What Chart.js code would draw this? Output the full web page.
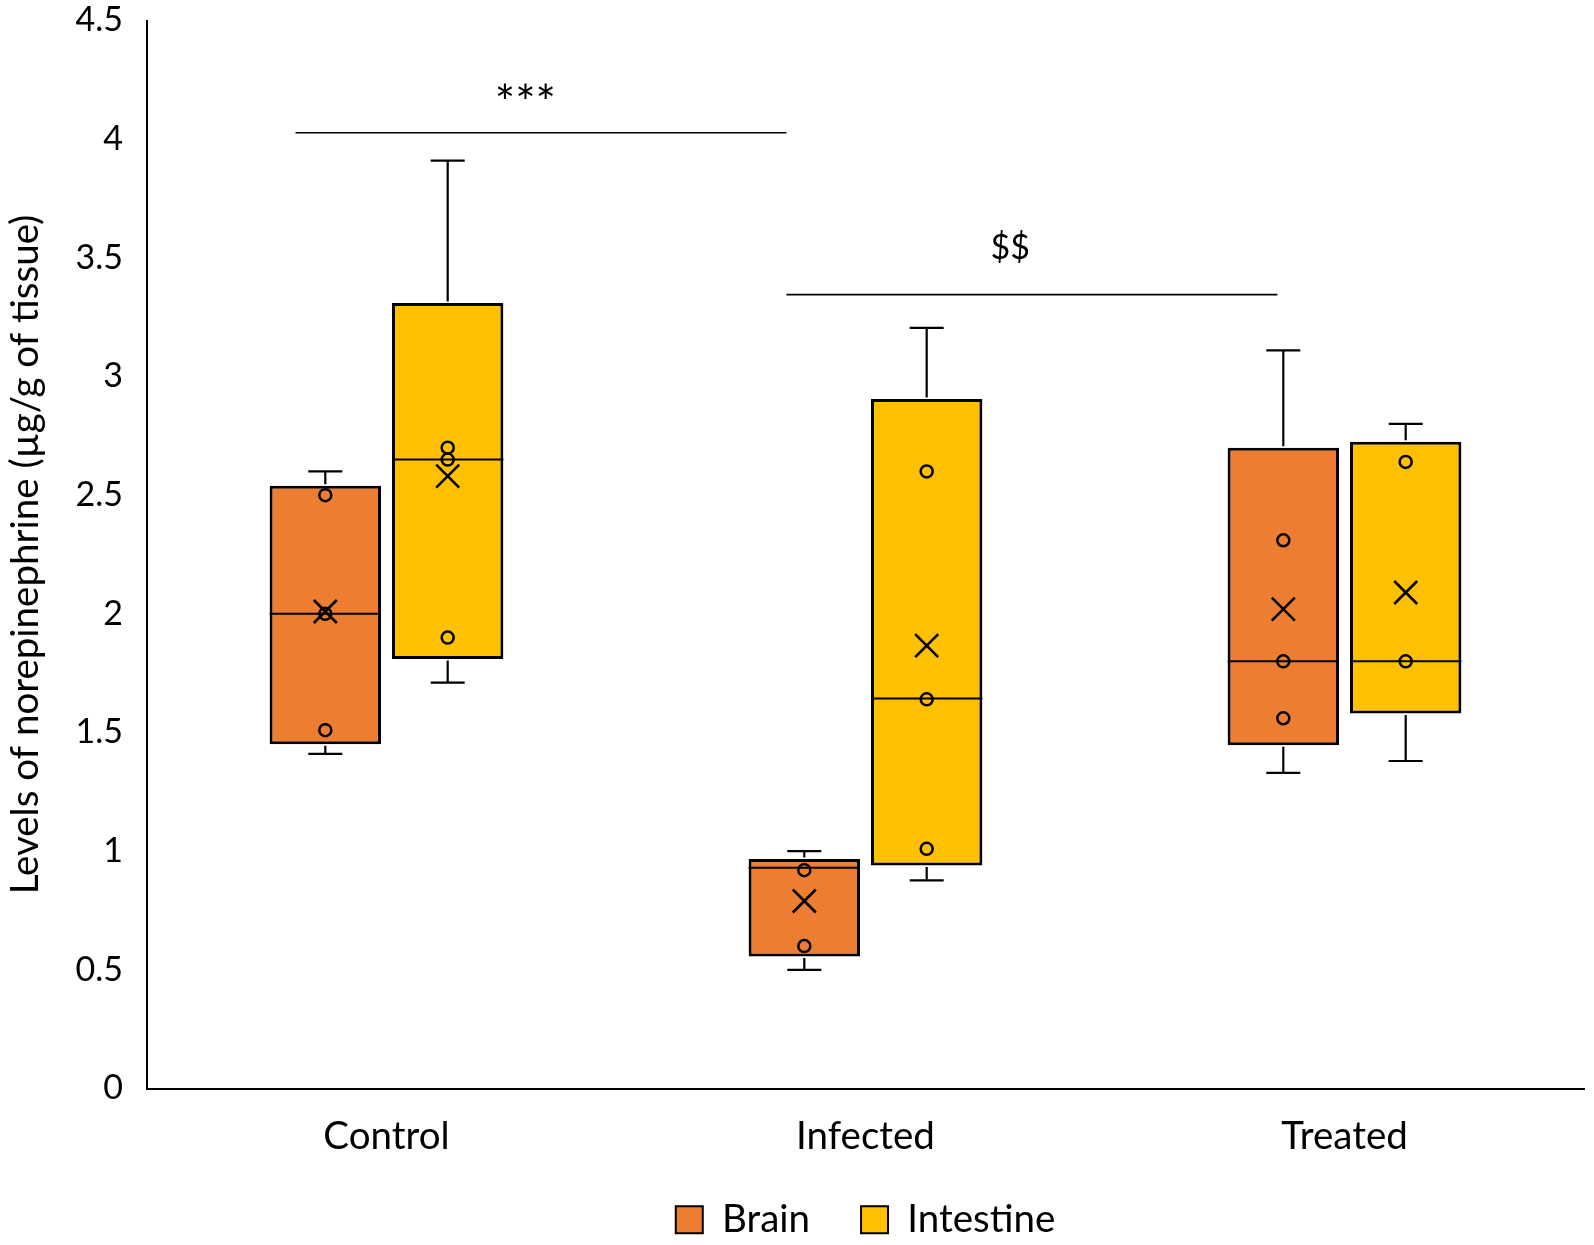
<!DOCTYPE html>
<html>
<head>
<meta charset="utf-8">
<script src="https://cdn.jsdelivr.net/npm/chart.js@4"></script>
<style>
  html, body { margin: 0; padding: 0; background: #fff; }
  #wrap { width: 1594px; height: 1245px; position: relative; }
</style>
</head>
<body>
<div id="wrap"><canvas id="c" width="1594" height="1245"></canvas></div>
<script>
// ---- data ----
const categories = ['Control', 'Infected', 'Treated'];
const seriesNames = ['Brain', 'Intestine'];

const brainMin    = [1.41, 0.50, 1.33];
const brainQ1     = [1.45, 0.556, 1.446];
const brainMedian = [2.00, 0.93, 1.80];
const brainQ3     = [2.54, 0.967, 2.70];
const brainMax    = [2.60, 1.00, 3.11];
const brainMean   = [2.01, 0.79, 2.02];
const brainPoints = [[2.50, 2.00, 1.51], [0.92, 0.60], [2.31, 1.80, 1.56]];

const intMin    = [1.71, 0.877, 1.38];
const intQ1     = [1.81, 0.94, 1.58];
const intMedian = [2.65, 1.643, 1.80];
const intQ3     = [3.31, 2.905, 2.725];
const intMax    = [3.91, 3.205, 2.80];
const intMean   = [2.58, 1.866, 2.09];
const intPoints = [[2.70, 2.65, 1.90], [2.60, 1.64, 1.01], [2.64, 1.80]];

// significance brackets: [xFrom, xTo] in category index units, y value, label
const sigFrom  = [-0.19, 0.835];
const sigTo    = [0.835, 1.86];
const sigY     = [4.027, 3.345];
const sigLabel = ['***', '$$'];
const sigLabelX = [0.29, 1.302];
const sigLabelY = [4.147, 3.54];

const yTicks = [0, 0.5, 1, 1.5, 2, 2.5, 3, 3.5, 4, 4.5];

const FONT = "Lato, 'Open Sans', 'Liberation Sans', sans-serif";
const stats = [
  {min: brainMin, q1: brainQ1, med: brainMedian, q3: brainQ3, max: brainMax, mean: brainMean, pts: brainPoints},
  {min: intMin, q1: intQ1, med: intMedian, q3: intQ3, max: intMax, mean: intMean, pts: intPoints}
];

const boxPlugin = {
  id: 'boxExtras',
  afterDatasetsDraw(chart) {
    const ctx = chart.ctx;
    const y = chart.scales.y;
    const x = chart.scales.x;
    ctx.save();
    ctx.strokeStyle = '#000';
    ctx.lineCap = 'butt';
    stats.forEach((s, di) => {
      const meta = chart.getDatasetMeta(di);
      meta.data.forEach((el, j) => {
        const cx = el.x;
        const half = el.width / 2;
        const cap = 17;
        const pMin = y.getPixelForValue(s.min[j]);
        const pQ1 = y.getPixelForValue(s.q1[j]);
        const pQ3 = y.getPixelForValue(s.q3[j]);
        const pMax = y.getPixelForValue(s.max[j]);
        const pMed = y.getPixelForValue(s.med[j]);
        ctx.lineWidth = 2.2;
        ctx.beginPath();
        ctx.moveTo(cx, pQ3 - 1.5); ctx.lineTo(cx, pMax);
        ctx.moveTo(cx - cap, pMax); ctx.lineTo(cx + cap, pMax);
        ctx.moveTo(cx, pQ1 + 1.5); ctx.lineTo(cx, pMin);
        ctx.moveTo(cx - cap, pMin); ctx.lineTo(cx + cap, pMin);
        ctx.stroke();
        // median
        ctx.lineWidth = 2;
        ctx.beginPath();
        ctx.moveTo(cx - half, pMed); ctx.lineTo(cx + half, pMed);
        ctx.stroke();
        // points
        ctx.lineWidth = 2.5;
        s.pts[j].forEach(v => {
          const py = y.getPixelForValue(v);
          ctx.beginPath();
          ctx.arc(cx, py, 6, 0, Math.PI * 2);
          ctx.stroke();
        });
        // mean X
        const pm = y.getPixelForValue(s.mean[j]);
        const m = 11.5;
        ctx.lineWidth = 2.6;
        ctx.beginPath();
        ctx.moveTo(cx - m, pm - m); ctx.lineTo(cx + m, pm + m);
        ctx.moveTo(cx - m, pm + m); ctx.lineTo(cx + m, pm - m);
        ctx.stroke();
      });
    });
    // significance brackets
    ctx.lineWidth = 1.6;
    ctx.fillStyle = '#000';
    ctx.textAlign = 'center';
    ctx.textBaseline = 'middle';
    sigY.forEach((v, i) => {
      const py = y.getPixelForValue(v);
      ctx.beginPath();
      ctx.moveTo(x.getPixelForValue(sigFrom[i]), py);
      ctx.lineTo(x.getPixelForValue(sigTo[i]), py);
      ctx.stroke();
      ctx.font = (i === 0 ? '48px ' : '34px ') + FONT;
      ctx.fillText(sigLabel[i], x.getPixelForValue(sigLabelX[i]), y.getPixelForValue(sigLabelY[i]));
    });
    ctx.restore();
  }
};

new Chart(document.getElementById('c'), {
  type: 'bar',
  data: {
    labels: categories,
    datasets: [
      {
        label: seriesNames[0],
        data: brainQ1.map((q, i) => [q, brainQ3[i]]),
        backgroundColor: '#ED7D31',
        borderColor: '#000',
        borderWidth: 3,
        borderSkipped: false
      },
      {
        label: seriesNames[1],
        data: intQ1.map((q, i) => [q, intQ3[i]]),
        backgroundColor: '#FFC000',
        borderColor: '#000',
        borderWidth: 3,
        borderSkipped: false
      }
    ]
  },
  options: {
    responsive: false,
    animation: false,
    categoryPercentage: 0.511,
    barPercentage: 0.91,
    layout: { padding: { top: 0, right: 10, left: 0, bottom: -4 } },
    plugins: {
      tooltip: { enabled: false },
      legend: {
        position: 'bottom',
        fullSize: false,
        labels: {
          color: '#000',
          font: { family: FONT, size: 38.5 },
          boxWidth: 27,
          boxHeight: 27,
          padding: 51,
          generateLabels: (chart) => {
            const items = Chart.defaults.plugins.legend.labels.generateLabels(chart);
            items.forEach(it => { it.lineWidth = 2; });
            return items;
          }
        }
      }
    },
    scales: {
      x: {
        grid: { display: false, drawTicks: false },
        border: { display: true, color: '#000', width: 2 },
        ticks: { color: '#000', font: { family: FONT, size: 38.5 }, padding: 25 },
        afterFit: (scale) => { scale.height = 61; }
      },
      y: {
        min: 0,
        max: 4.5,
        afterBuildTicks: (axis) => { axis.ticks = yTicks.map(v => ({ value: v })); },
        grid: { display: false, drawTicks: false },
        border: { display: true, color: '#000', width: 2 },
        ticks: {
          color: '#000',
          font: { family: FONT, size: 34 },
          padding: 24,
          callback: (v) => String(v)
        },
        title: {
          display: true,
          text: 'Levels of norepinephrine (µg/g of tissue)',
          color: '#000',
          font: { family: FONT, size: 38.5 },
          padding: { top: 2, bottom: 0 }
        },
        afterFit: (scale) => {
          scale.width = 147;
          scale.paddingTop = 20.5;
          scale.paddingBottom = 0;
        }
      }
    }
  },
  plugins: [boxPlugin]
});
</script>
</body>
</html>
